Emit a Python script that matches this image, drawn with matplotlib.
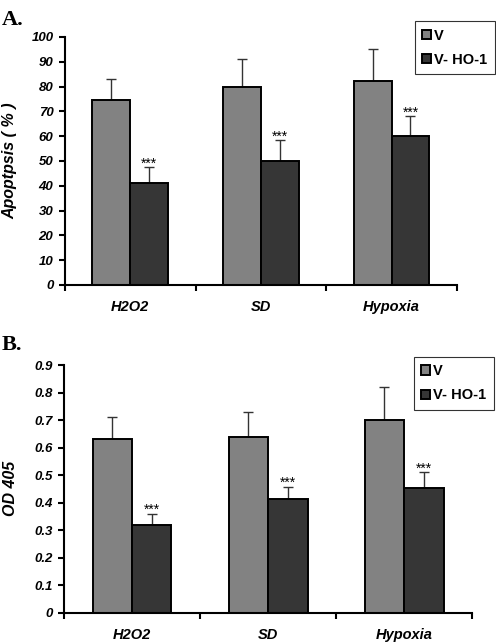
import matplotlib
matplotlib.use("Agg")
import matplotlib.pyplot as plt
import numpy as np

plt.rcParams['font.family'] = ['Liberation Sans', 'DejaVu Sans']

# data
groups = ['H2O2', 'SD', 'Hypoxia']
series = ['V', 'V- HO-1']

apop_v = [74.5, 80, 82.3]
apop_v_err = [8.5, 11, 13]
apop_ho = [41, 50, 60]
apop_ho_err = [6.5, 8.3, 8]

od_v = [0.63, 0.64, 0.70]
od_v_err = [0.08, 0.09, 0.12]
od_ho = [0.32, 0.413, 0.452]
od_ho_err = [0.04, 0.045, 0.058]

c_v = '#828282'
c_ho = '#363636'

fig = plt.figure(figsize=(4.96, 6.43), dpi=100)
axA = fig.add_axes([0.131, 0.5568, 0.790, 0.3857])
axB = fig.add_axes([0.129, 0.0471, 0.823, 0.3852])


def draw(ax, v, ve, h, he, ylim, yticks, ylabel, fmt, star_off, label_x):
    x = np.arange(len(groups)) + 0.5
    w = 0.29
    ax.bar(x - w / 2, v, w, color=c_v, edgecolor='black', linewidth=1.4, label=series[0], zorder=2)
    ax.bar(x + w / 2, h, w, color=c_ho, edgecolor='black', linewidth=1.4, label=series[1], zorder=2)
    ax.errorbar(x - w / 2, v, yerr=[np.zeros(3), ve], fmt='none', ecolor='#333333',
                elinewidth=1, capsize=3.6, capthick=1, zorder=1)
    ax.errorbar(x + w / 2, h, yerr=[np.zeros(3), he], fmt='none', ecolor='#333333',
                elinewidth=1, capsize=3.6, capthick=1, zorder=1)
    for xi, hi, ei in zip(x + w / 2, h, he):
        ax.text(xi, hi + ei - star_off, '***', ha='center', va='bottom', fontsize=10)
    ax.set_xlim(0, 3)
    ax.set_ylim(*ylim)
    ax.set_yticks(yticks)
    ax.set_yticklabels([fmt(t) for t in yticks], fontsize=9.5, fontweight='bold', fontstyle='italic')
    ax.set_xticks([0, 1, 2, 3])
    ax.set_xticklabels([])
    ax.set_xticks(x, minor=True)
    ax.set_xticklabels(groups, minor=True, fontsize=10.5, fontweight='bold', fontstyle='italic')
    ax.tick_params(axis='x', which='minor', length=0, pad=11)
    ax.tick_params(axis='x', which='major', length=4, width=1.5, direction='out')
    ax.tick_params(axis='y', length=4.3, width=1.5, direction='out', pad=4)
    for s in ['top', 'right']:
        ax.spines[s].set_visible(False)
    for s in ['left', 'bottom']:
        ax.spines[s].set_linewidth(1.5)
    ax.set_ylabel(ylabel, fontsize=11.5, fontweight='bold', fontstyle='italic', va='center')
    ax.yaxis.set_label_coords(label_x, 0.5)


draw(axA, apop_v, apop_v_err, apop_ho, apop_ho_err, (0, 100), list(range(0, 101, 10)),
     'Apoptpsis ( % )', lambda t: f'{t}', 1.5, -0.140)
draw(axB, od_v, od_v_err, od_ho, od_ho_err, (0, 0.9), [round(0.1 * i, 1) for i in range(10)],
     'OD 405', lambda t: '0' if t == 0 else f'{t:.1f}', 0.012, -0.132)

for ax, anchor in [(axA, (0.837, 0.967)), (axB, (0.835, 0.445))]:
    leg = ax.legend(loc='upper left', bbox_to_anchor=anchor, bbox_transform=fig.transFigure,
                    frameon=True, fancybox=False, edgecolor='black',
                    prop={'weight': 'bold', 'size': 10.5}, handlelength=0.6, handleheight=0.6,
                    handletextpad=0.2, borderpad=0.5, labelspacing=0.7, borderaxespad=0)
    leg.get_frame().set_linewidth(0.8)

fig.text(0.004, 0.961, 'A.', fontsize=16, fontweight='bold', family='Liberation Serif')
fig.text(0.004, 0.455, 'B.', fontsize=16, fontweight='bold', family='Liberation Serif')

fig.savefig('out.png', dpi=100)
